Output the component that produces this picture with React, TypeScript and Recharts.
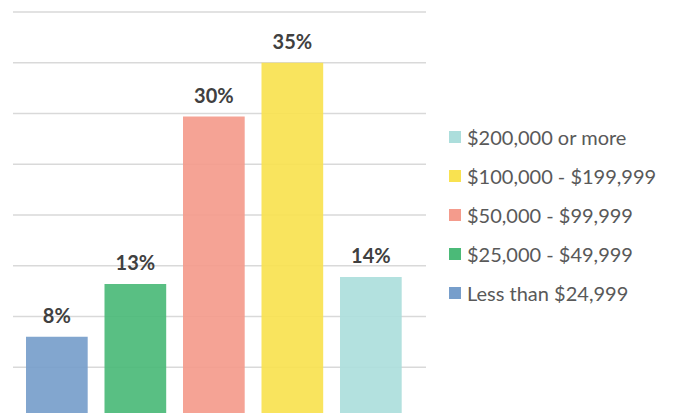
import { BarChart, Bar, XAxis, YAxis, CartesianGrid, LabelList } from 'recharts';

const brackets = ['Less than $24,999', '$25,000 - $49,999', '$50,000 - $99,999', '$100,000 - $199,999', '$200,000 or more'];
const shares = [8, 13.2, 29.7, 35, 13.9];
const colors = ['#779ecb', '#4bba78', '#f49b8c', '#f9e250', '#acdedc'];
const yTicks = [0, 5, 10, 15, 20, 25, 30, 35, 40];

const keys = brackets.map((_, i) => `s${i}`);
const row: Record<string, number | string> = { name: 'Income' };
keys.forEach((k, i) => { row[k] = shares[i]; });
const data = [row];

const FONT = 'Lato, "Open Sans", sans-serif';

// legend lists the series top-down in reverse, like the source
function IncomeLegend() {
  const order = brackets.map((b, i) => ({ label: b, color: colors[i] })).reverse();
  return (
    <ul style={{ position: 'absolute', left: 449, top: 117, listStyle: 'none', margin: 0, padding: 0, fontFamily: FONT }}>
      {order.map((item) => (
        <li key={item.label} style={{ display: 'flex', alignItems: 'center', height: 39, color: '#595959', fontSize: 20, whiteSpace: 'nowrap' }}>
          <span style={{ width: 12, height: 12, background: item.color, marginRight: 6, display: 'inline-block' }} />
          {item.label}
        </li>
      ))}
    </ul>
  );
}

export default function App() {
  return (
    <div style={{ position: 'absolute', left: 0, top: 0, width: 673, height: 413, overflow: 'hidden', background: '#fff' }}>
      <BarChart width={673} height={420} data={data} margin={{ top: 12, right: 247, bottom: 2, left: 13 }} barSize={61.7} barGap={16.8}>
        <CartesianGrid vertical={false} stroke="#d9d9d9" strokeWidth={1.5} />
        <XAxis dataKey="name" hide padding={{ left: 0, right: 11 }} />
        <YAxis hide width={0} domain={[0, 40]} ticks={yTicks} />
        {keys.map((k, i) => (
          <Bar key={k} dataKey={k} name={brackets[i]} fill={colors[i]} fillOpacity={0.92} isAnimationActive={false}>
            <LabelList
              dataKey={k}
              position="top"
              offset={14}
              formatter={(v: any) => `${Math.round(Number(v))}%`}
              style={{ fontFamily: FONT, fontWeight: 700, fontSize: 20, fill: '#404040' }}
            />
          </Bar>
        ))}
      </BarChart>
      <IncomeLegend />
    </div>
  );
}
